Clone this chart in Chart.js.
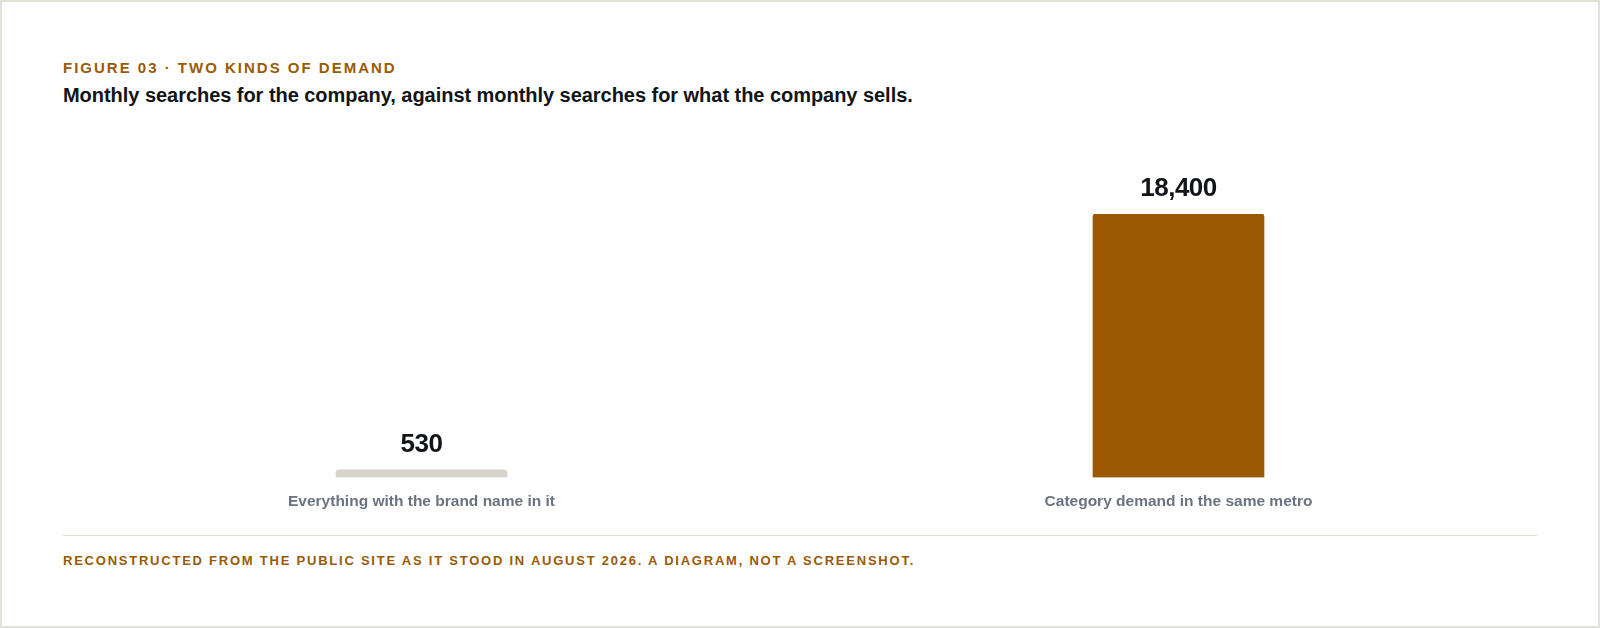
<!DOCTYPE html>
<html>
<head>
<meta charset="utf-8">
<script src="https://cdn.jsdelivr.net/npm/chart.js@4.4.1/dist/chart.umd.min.js"></script>
<style>
  html, body { margin: 0; padding: 0; background: #ffffff; }
  #frame {
    position: relative; width: 1600px; height: 628px; box-sizing: border-box;
    border: 2px solid #e4e1d9; background: #ffffff; overflow: hidden;
    font-family: "Liberation Sans", Arial, Helvetica, sans-serif;
  }
  #eyebrow {
    position: absolute; left: 61px; top: 57px; margin: 0;
    font-size: 15px; font-weight: 700; letter-spacing: 2.0px; color: #9a5a06;
    line-height: 18px; white-space: nowrap;
  }
  #title {
    position: absolute; left: 61px; top: 81px; margin: 0;
    font-size: 20px; font-weight: 700; color: #111418; letter-spacing: -0.04px;
    line-height: 24px; white-space: nowrap;
  }
  #chartWrap { position: absolute; left: 41px; top: 128px; width: 1514px; height: 388px; }
  #rule { position: absolute; left: 61px; width: 1474px; top: 533px; height: 0; border-top: 1.5px solid #e4e1d9; }
  #footer {
    position: absolute; left: 61px; top: 551px; margin: 0;
    font-size: 13px; font-weight: 700; letter-spacing: 1.77px; color: #9a5a06;
    line-height: 16px; white-space: nowrap;
  }
</style>
</head>
<body>
<div id="frame">
  <p id="eyebrow">FIGURE 03 · TWO KINDS OF DEMAND</p>
  <p id="title">Monthly searches for the company, against monthly searches for what the company sells.</p>
  <div id="chartWrap"><canvas id="c"></canvas></div>
  <div id="rule"></div>
  <p id="footer">RECONSTRUCTED FROM THE PUBLIC SITE AS IT STOOD IN AUGUST 2026. A DIAGRAM, NOT A SCREENSHOT.</p>
</div>
<script>
const categories = ["Everything with the brand name in it", "Category demand in the same metro"];
const searchValues = [530, 18400];
const barColors = ["#d8d2ca", "#9a5800"];
const yMax = 18400;

const valueLabels = {
  id: "valueLabels",
  afterDatasetsDraw(chart) {
    const ctx = chart.ctx;
    const meta = chart.getDatasetMeta(0);
    ctx.save();
    ctx.font = "700 26px 'Liberation Sans', Arial, sans-serif";
    try { ctx.letterSpacing = "-0.5px"; } catch (e) {}
    ctx.fillStyle = "#111418";
    ctx.textAlign = "center";
    ctx.textBaseline = "alphabetic";
    meta.data.forEach((bar, i) => {
      const v = chart.data.datasets[0].data[i];
      ctx.fillText(v.toLocaleString("en-US"), bar.x, bar.y - 18);
    });
    ctx.restore();
  }
};

new Chart(document.getElementById("c"), {
  type: "bar",
  data: {
    labels: categories,
    datasets: [{
      data: searchValues,
      backgroundColor: barColors,
      barThickness: 171,
      borderRadius: { topLeft: 3, topRight: 3, bottomLeft: 0, bottomRight: 0 },
      borderSkipped: "start"
    }]
  },
  options: {
    responsive: true,
    maintainAspectRatio: false,
    animation: false,
    layout: { padding: { top: 84, bottom: 0, left: 0, right: 0 } },
    plugins: { legend: { display: false }, tooltip: { enabled: false } },
    scales: {
      x: {
        grid: { display: false },
        border: { display: false },
        ticks: {
          color: "#6b7280",
          padding: 7,
          font: { family: "'Liberation Sans', Arial, sans-serif", size: 15.5, weight: "700" }
        }
      },
      y: { display: false, min: 0, max: yMax }
    }
  },
  plugins: [valueLabels]
});
</script>
</body>
</html>
